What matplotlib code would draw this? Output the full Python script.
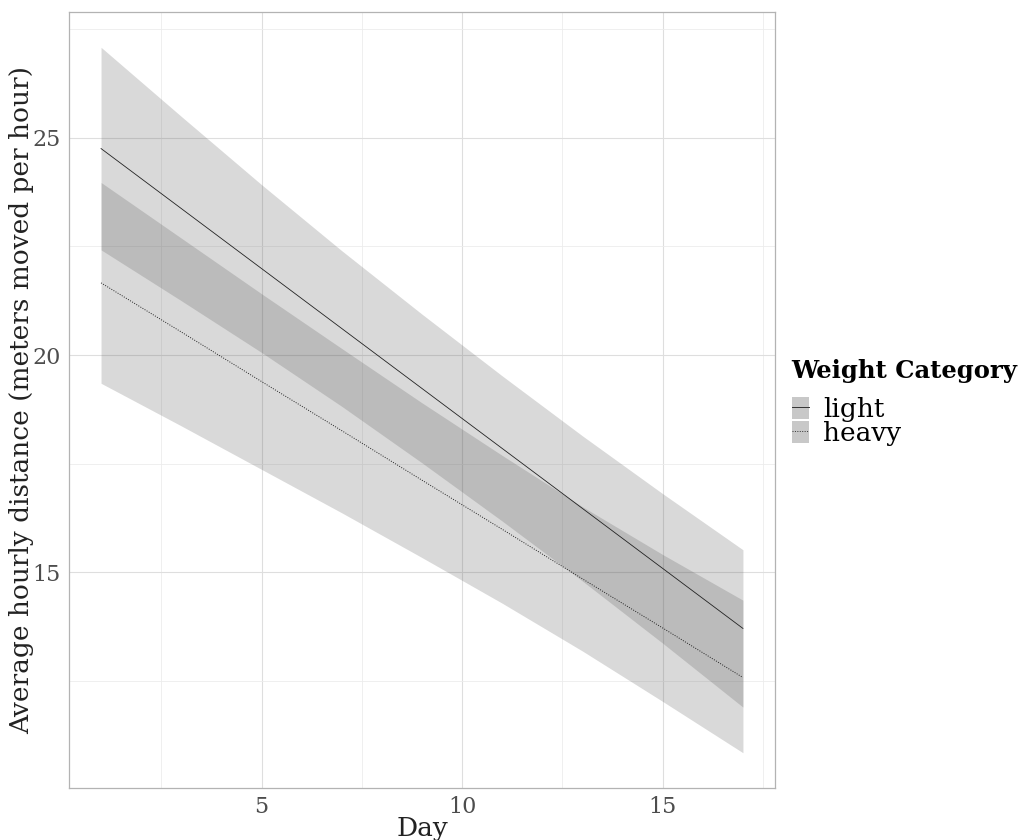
import matplotlib
matplotlib.use('Agg')
import matplotlib.pyplot as plt
from matplotlib.patches import Patch
from matplotlib.lines import Line2D
from matplotlib.ticker import MultipleLocator

plt.rcParams['font.family'] = ['DejaVu Serif']

# values
days = [1, 3, 5, 7, 9, 11, 13, 15, 17]

light_fit = [24.75, 23.37, 21.99, 20.61, 19.23, 17.85, 16.47, 15.09, 13.71]
light_lo = [22.42, 21.25, 20.06, 18.82, 17.52, 16.18, 14.80, 13.37, 11.90]
light_hi = [27.08, 25.49, 23.92, 22.40, 20.94, 19.52, 18.14, 16.81, 15.52]

heavy_fit = [21.66, 20.53, 19.39, 18.26, 17.12, 15.99, 14.85, 13.72, 12.58]
heavy_lo = [19.35, 18.37, 17.37, 16.37, 15.34, 14.29, 13.19, 12.03, 10.85]
heavy_hi = [23.97, 22.69, 21.41, 20.15, 18.90, 17.69, 16.51, 15.41, 14.36]

fig = plt.figure(figsize=(10.23, 8.4), dpi=100)
ax = fig.add_axes([0.0674, 0.0619, 0.6902, 0.9238])

ribbon_col = '#4d4d4d'
ribbon_alpha = 0.21

ax.fill_between(days, light_lo, light_hi, color=ribbon_col, alpha=ribbon_alpha, lw=0)
ax.fill_between(days, heavy_lo, heavy_hi, color=ribbon_col, alpha=ribbon_alpha, lw=0)
ax.plot(days, light_fit, color='#222222', lw=0.6, ls='-')
ax.plot(days, heavy_fit, color='#222222', lw=0.7, ls=(0, (1, 1.5)))

# ggplot-like default expansion
ax.set_xlim(1 - 0.8, 17 + 0.8)
lo, hi = min(heavy_lo), max(light_hi)
span = hi - lo
ax.set_ylim(lo - 0.05 * span, hi + 0.05 * span)

ax.xaxis.set_major_locator(MultipleLocator(5))
ax.xaxis.set_minor_locator(MultipleLocator(2.5))
ax.yaxis.set_major_locator(MultipleLocator(5))
ax.yaxis.set_minor_locator(MultipleLocator(2.5))
ax.grid(which='major', color='#dedede', lw=0.8)
ax.grid(which='minor', color='#ececec', lw=0.6)
ax.set_axisbelow(True)

for s in ax.spines.values():
    s.set_color('#b3b3b3')
    s.set_linewidth(0.9)

ax.tick_params(which='both', length=0, labelsize=16, labelcolor='#4d4d4d', pad=6)

ax.set_xlabel('Day', fontsize=19, color='#222222', labelpad=-2)
ax.set_ylabel('Average hourly distance (meters moved per hour)', fontsize=19,
              color='#222222', labelpad=-1)

# legend: title as separate text, keys below
fig.text(0.773, 0.558, 'Weight Category', fontsize=17.5, fontweight='bold',
         ha='left', va='center', color='black')
key = Patch(facecolor='#c8c8c8', edgecolor='none')
h_light = (key, Line2D([], [], color='#333333', lw=0.7))
h_heavy = (key, Line2D([], [], color='#333333', lw=0.7, ls=(0, (1, 1.5))))
fig.legend([h_light, h_heavy], ['light', 'heavy'],
           loc='upper left', bbox_to_anchor=(0.761, 0.543), frameon=False,
           fontsize=19, handlelength=0.65, handleheight=0.9,
           handletextpad=0.55, labelspacing=-0.05, borderpad=0)

fig.savefig('out.png', dpi=100)
